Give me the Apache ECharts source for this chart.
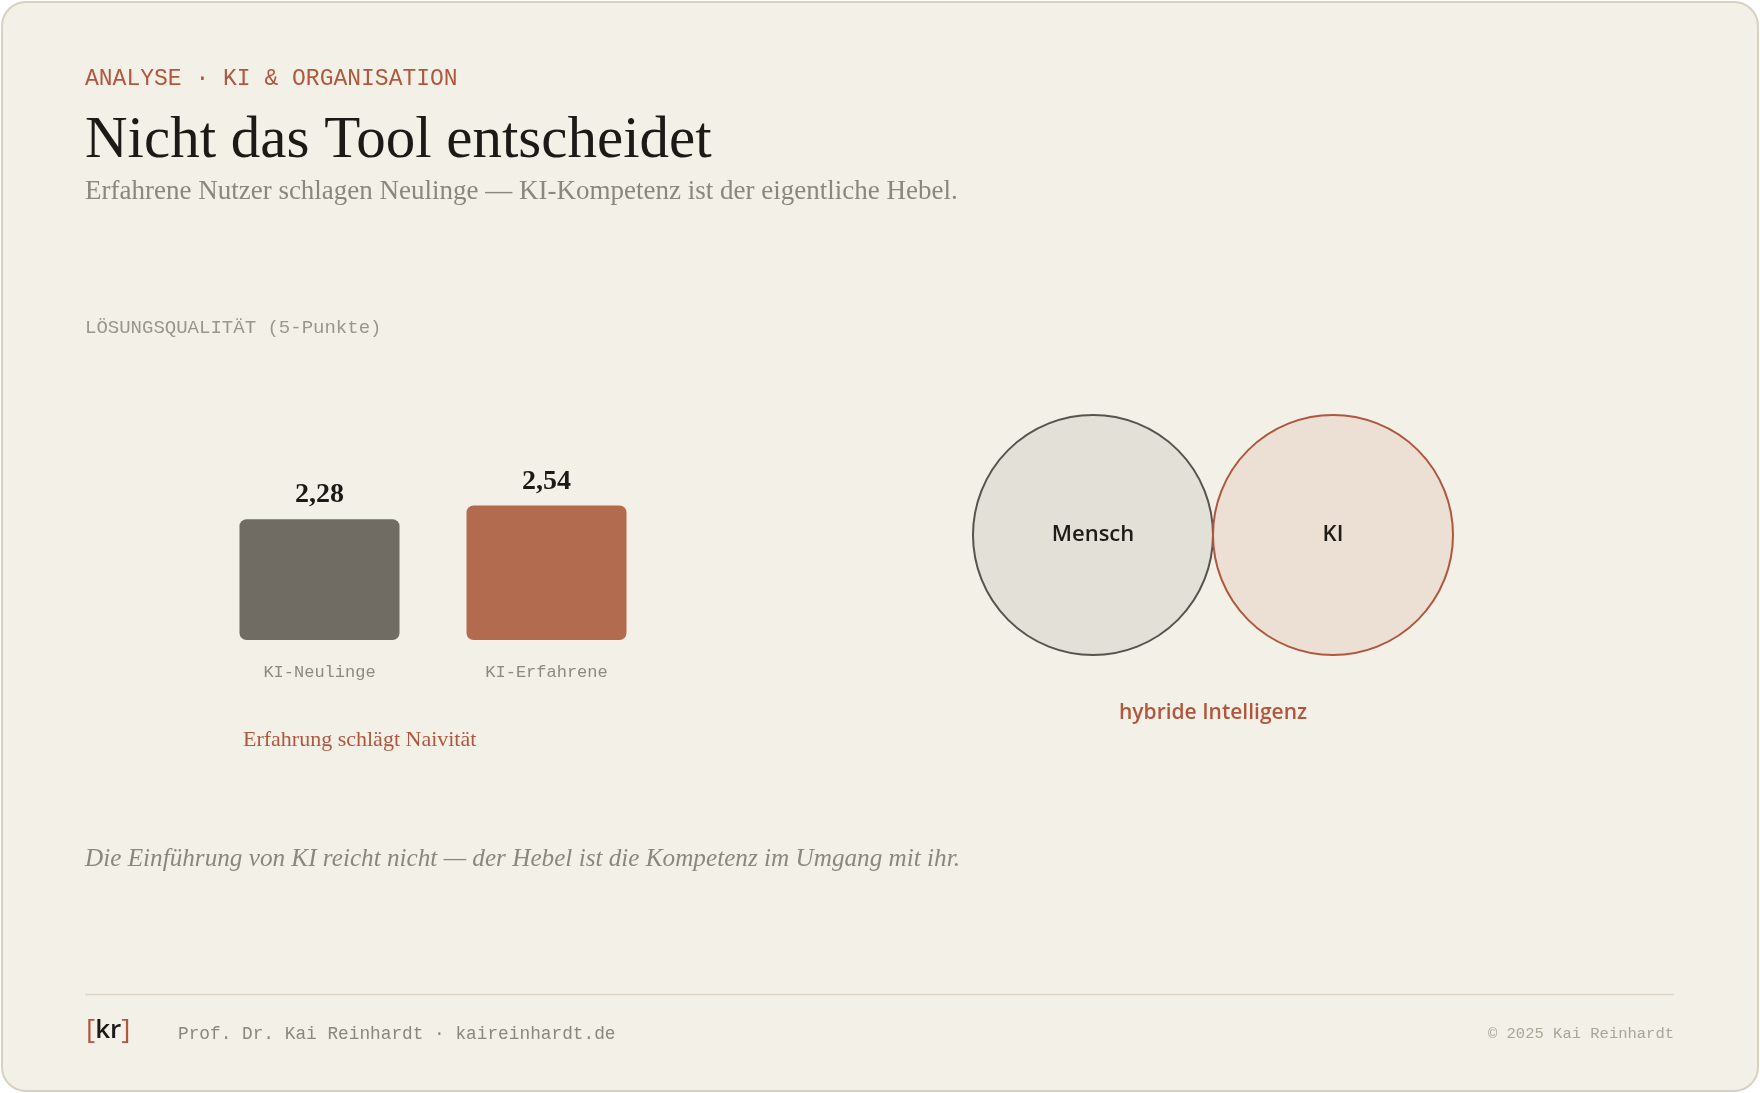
<!DOCTYPE html>
<html><head><meta charset="utf-8">
<script src="https://cdn.jsdelivr.net/npm/echarts@6/dist/echarts.min.js"></script>
<style>html,body{margin:0;padding:0;background:#ffffff;}#c{width:1760px;height:1093px;}</style>
</head><body><div id="c"></div>
<script>
// ---- data ----
const categories = ['KI-Neulinge', 'KI-Erfahrene'];
const values = [2.28, 2.54];
const valueLabels = ['2,28', '2,54'];
const barColors = ['#706c64', '#b36b50'];
const vennSets = ['Mensch', 'KI'];
const vennX = [0, 1];
const vennFill = ['#e3e0d8', '#ecdfd3'];
const vennStroke = ['#57544e', '#b0573d'];

const kicker = 'ANALYSE · KI & ORGANISATION';
const title = 'Nicht das Tool entscheidet';
const subtitle = 'Erfahrene Nutzer schlagen Neulinge — KI-Kompetenz ist der eigentliche Hebel.';
const axisTitle = 'LÖSUNGSQUALITÄT (5-Punkte)';
const barNote = 'Erfahrung schlägt Naivität';
const vennNote = 'hybride Intelligenz';
const quote = 'Die Einführung von KI reicht nicht — der Hebel ist die Kompetenz im Umgang mit ihr.';
const footerLeft = 'Prof. Dr. Kai Reinhardt · kaireinhardt.de';
const footerRight = '© 2025 Kai Reinhardt';

const SERIF = "'Liberation Serif', 'DejaVu Serif', serif";
const MONO = "'Liberation Mono', 'DejaVu Sans Mono', monospace";
const SANS = "'Open Sans', 'Noto Sans', sans-serif";

const chart = echarts.init(document.getElementById('c'), null, {renderer: 'canvas'});

function txt(x, y, text, font, fill, align, z) {
  return {type: 'text', x: x, y: y, z: z || 50,
    style: {text: text, font: font, fill: fill, align: align || 'left', verticalAlign: 'middle'}};
}

chart.setOption({
  backgroundColor: 'transparent',
  animation: false,
  grid: [
    {left: 206, top: 375, width: 454, height: 265},
    {left: 973, top: 415, width: 480, height: 240}
  ],
  xAxis: [
    {type: 'category', gridIndex: 0, data: categories,
      axisLine: {show: false}, axisTick: {show: false}, splitLine: {show: false},
      axisLabel: {margin: 24, fontFamily: MONO, fontSize: 17, color: '#8e897d'}},
    {type: 'value', gridIndex: 1, min: -0.5, max: 1.5, show: false}
  ],
  yAxis: [
    {type: 'value', gridIndex: 0, min: 0, max: 5, show: false},
    {type: 'value', gridIndex: 1, min: -1, max: 1, show: false}
  ],
  graphic: [
    {type: 'rect', z: 0, shape: {x: 2, y: 2, width: 1756, height: 1089, r: 24},
      style: {fill: '#f3f0e8', stroke: '#d8d1c2', lineWidth: 2}},
    txt(85, 79, kicker, '23px ' + MONO, '#b0573d'),
    txt(85, 141, title, '59px ' + SERIF, '#1c1a17'),
    txt(85, 192, subtitle, '27px ' + SERIF, '#8c877b'),
    txt(85, 328, axisTitle, '19px ' + MONO, '#9b968a'),
    txt(243, 740, barNote, '22px ' + SERIF, '#b0573d'),
    txt(1213, 713, vennNote, '600 21px ' + SANS, '#b0573d', 'center'),
    txt(85, 859, quote, 'italic 25.2px ' + SERIF, '#8c877b'),
    {type: 'line', z: 5, shape: {x1: 85, y1: 994.5, x2: 1674, y2: 994.5},
      style: {stroke: '#ddd6c7', lineWidth: 1.5}},
    {type: 'text', x: 86, y: 1031, z: 50, style: {
      text: '{b|[}{k|kr}{b|]}', verticalAlign: 'middle', align: 'left',
      rich: {
        b: {fontFamily: SANS, fontSize: 28, fontWeight: 500, fill: '#b0573d'},
        k: {fontFamily: SANS, fontSize: 26, fontWeight: 600, fill: '#1c1a17'}
      }}},
    txt(178, 1034, footerLeft, '17.8px ' + MONO, '#8c877b'),
    txt(1674, 1034, footerRight, '15.5px ' + MONO, '#aaa597', 'right')
  ],
  series: [
    {type: 'bar', xAxisIndex: 0, yAxisIndex: 0, barWidth: 160, z: 10,
      data: values.map(function (v, i) {
        return {value: v, itemStyle: {color: barColors[i], borderRadius: 7}};
      }),
      label: {show: true, position: 'top', distance: 10,
        fontFamily: SERIF, fontWeight: 'bold', fontSize: 28, color: '#1c1a17',
        formatter: function (p) { return valueLabels[p.dataIndex]; }}
    },
    {type: 'scatter', xAxisIndex: 1, yAxisIndex: 1, symbol: 'circle', symbolSize: 240, z: 10,
      data: vennSets.map(function (n, i) {
        return {value: [vennX[i], 0], name: n,
          itemStyle: {color: vennFill[i], borderColor: vennStroke[i], borderWidth: 2, opacity: 1}};
      }),
      label: {show: true, position: 'inside', formatter: '{b}',
        fontFamily: SANS, fontWeight: 600, fontSize: 22, color: '#1e1c18'},
      emphasis: {disabled: true}
    }
  ]
});
</script></body></html>
